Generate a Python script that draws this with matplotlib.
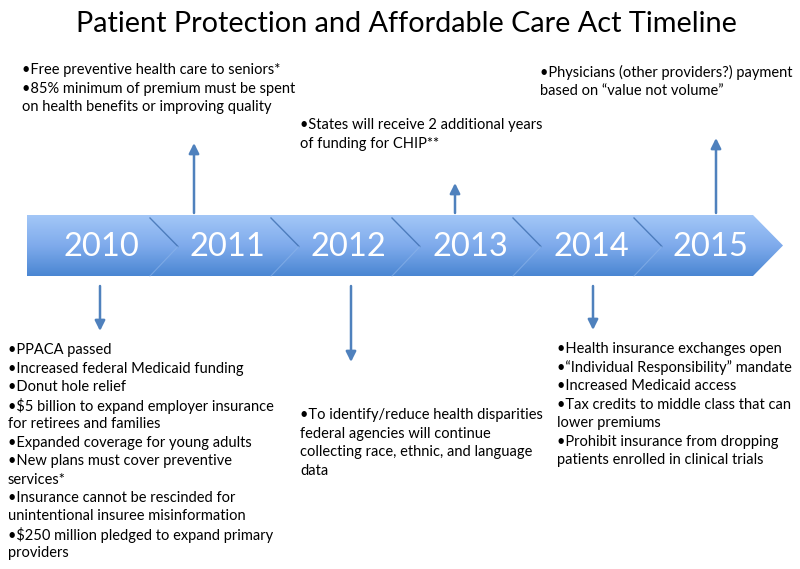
import numpy as np
import matplotlib.pyplot as plt
from matplotlib.patches import Polygon
from matplotlib.colors import LinearSegmentedColormap

plt.rcParams['font.family'] = ['Lato', 'DejaVu Sans']

title = 'Patient Protection and Affordable Care Act Timeline'
years = ['2010', '2011', '2012', '2013', '2014', '2015']
year_x = [101, 227, 348, 470, 591, 710]
separators = [150, 271, 392, 513, 634]

# (direction, x of arrow, arrow length)
events = {
    '2010': ('down', 100, 45),
    '2011': ('up', 194, 70),
    '2012': ('down', 351, 76),
    '2013': ('up', 455, 30),
    '2014': ('down', 593, 44),
    '2015': ('up', 716, 75),
}

notes = [
    (22, 70, ['•Free preventive health care to seniors*',
              '•85% minimum of premium must be spent',
              'on health benefits or improving quality']),
    (300, 125, ['•States will receive 2 additional years',
                'of funding for CHIP**']),
    (540, 72, ['•Physicians (other providers?) payment',
               'based on “value not volume”']),
    (8, 350, ['•PPACA passed',
              '•Increased federal Medicaid funding',
              '•Donut hole relief',
              '•$5 billion to expand employer insurance',
              'for retirees and families',
              '•Expanded coverage for young adults',
              '•New plans must cover preventive',
              'services*',
              '•Insurance cannot be rescinded for',
              'unintentional insuree misinformation',
              '•$250 million pledged to expand primary',
              'providers']),
    (300, 415, ['•To identify/reduce health disparities',
                'federal agencies will continue',
                'collecting race, ethnic, and language',
                'data']),
    (557, 349, ['•Health insurance exchanges open',
                '•“Individual Responsibility” mandate',
                '•Increased Medicaid access',
                '•Tax credits to middle class that can',
                'lower premiums',
                '•Prohibit insurance from dropping',
                'patients enrolled in clinical trials']),
]

fig = plt.figure(figsize=(8, 5.69), dpi=100)
ax = fig.add_axes([0, 0, 1, 1])
ax.set_xlim(0, 800)
ax.set_ylim(569, 0)
ax.axis('off')

# timeline band with gradient
top, bot, left, shoulder, tip = 215, 276, 27, 753, 783
band = Polygon([(left, top), (shoulder, top), (tip, (top + bot) / 2),
                (shoulder, bot), (left, bot)], closed=True,
               facecolor='none', edgecolor='none')
ax.add_patch(band)
cmap = LinearSegmentedColormap.from_list('band', ['#a3c7f7', '#7fabec', '#4a86d2'])
grad = np.linspace(0, 1, 256).reshape(-1, 1)
im = ax.imshow(grad, cmap=cmap, aspect='auto', extent=(left, tip, bot, top),
               interpolation='bicubic', zorder=1)
im.set_clip_path(band)

mid = (top + bot) / 2
for sx in separators:
    ax.plot([sx, sx + 28], [top + 3, mid + 1], color='#3d6eb0', lw=1, alpha=0.8, zorder=2)
    ax.plot([sx + 28, sx], [mid + 1, bot], color='#8fb6ea', lw=0.8, alpha=0.6, zorder=2)

for y, x in zip(years, year_x):
    ax.text(x, mid + 1, y, color='white', fontsize=23.5, ha='center', va='center', zorder=3)

for key, (d, x, length) in events.items():
    if d == 'up':
        y0, y1 = top - 2, top - 2 - length
    else:
        y0, y1 = bot + 10, bot + 10 + length
    ax.annotate('', xy=(x, y1), xytext=(x, y0),
                arrowprops=dict(arrowstyle='-|>,head_length=0.6,head_width=0.3',
                                color='#4f81bd', lw=1.8, shrinkA=0, shrinkB=0))

for x, y, lines in notes:
    for i, line in enumerate(lines):
        ax.text(x, y + i * 18.5, line, fontsize=10.5, ha='left', va='center', color='black')

ax.text(406, 24, title, fontsize=20.8, ha='center', va='center', color='black')

fig.savefig('out.png', dpi=100)
